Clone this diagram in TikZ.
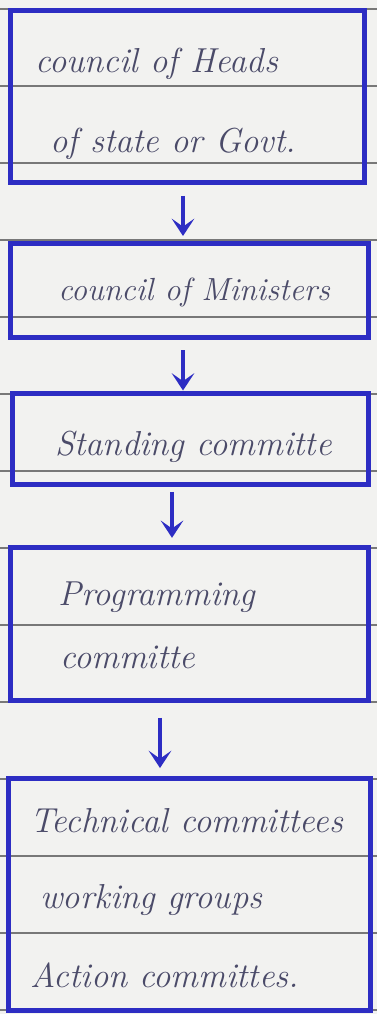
\documentclass[tikz,border=0pt]{standalone}
\usetikzlibrary{arrows.meta}
\definecolor{ink}{RGB}{45,45,195}
\definecolor{pencil}{RGB}{75,75,105}
\definecolor{paper}{RGB}{242,242,240}
\definecolor{ruling}{RGB}{120,120,120}
\begin{document}
\begin{tikzpicture}[x=0.75pt,y=-0.75pt,
    box/.style={draw=ink,line width=3.75pt,inner sep=0pt},
    hand/.style={text=pencil,font=\fontsize{26}{30}\selectfont\itshape,anchor=base west,inner sep=0pt},
    flow/.style={draw=ink,line width=2.4pt,-{Stealth[length=13pt,width=17pt,inset=6pt]}}]
        % Paper
        \fill[paper] (0,0) rectangle (377,1014);
        \useasboundingbox (0,0) rectangle (377,1014);
        \foreach \y in {9,86,...,1010}
            \draw[ruling,line width=0.8pt] (0,\y) -- (377,\y);

        % Boxes
        \node[box,minimum width=265.5pt,minimum height=129pt] (heads) at (187,96) {};
        \node[box,minimum width=268.5pt,minimum height=70.5pt] (ministers) at (189,290) {};
        \node[box,minimum width=267pt,minimum height=68.25pt] (standing) at (190,438.5) {};
        \node[box,minimum width=268.5pt,minimum height=114.75pt] (programming) at (189,623.5) {};
        \node[box,minimum width=271.5pt,minimum height=174pt] (technical) at (189,894) {};

        % Labels
        \node[hand] (headsA) at (35,72) {council of Heads};
        \node[hand] (headsB) at (50,152) {of state or Govt.};
        \node[hand,font=\fontsize{24}{28}\selectfont\itshape] (ministersA) at (58,300) {council of Ministers};
        \node[hand] (standingA) at (55,455) {Standing committe};
        \node[hand] (programmingA) at (58,605) {Programming};
        \node[hand] (programmingB) at (60,668) {committe};
        \node[hand] (technicalA) at (30,832) {Technical committees};
        \node[hand] (technicalB) at (40,908) {working groups};
        \node[hand] (technicalC) at (30,987) {Action committes.};

        % Arrows
        \draw[flow,shorten <=8.6pt,shorten >=3.4pt] ([xshift=-3pt]heads.south) -- ([xshift=-4.5pt]ministers.north);
        \draw[flow,shorten <=7.9pt] ([xshift=-4.5pt]ministers.south) -- ([xshift=-5.25pt]standing.north);
        \draw[flow,shorten <=4pt,shorten >=5pt] ([xshift=-13.5pt]standing.south) -- ([xshift=-12.75pt]programming.north);
        \draw[flow,shorten <=11.6pt,shorten >=5.6pt] ([xshift=-21.75pt]programming.south) -- ([xshift=-21.75pt]technical.north);
    \end{tikzpicture}
\end{document}
